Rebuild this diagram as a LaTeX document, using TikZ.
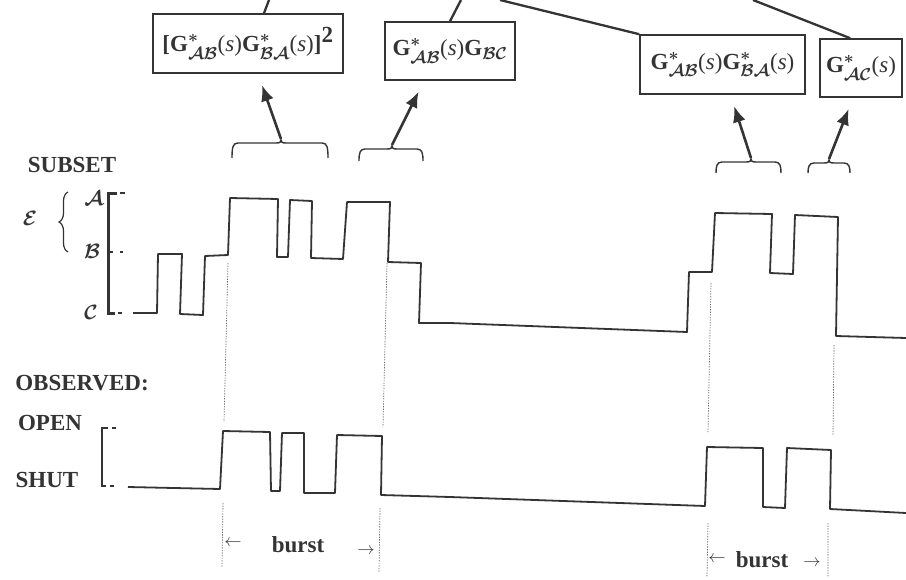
\documentclass[tikz,border=0pt]{standalone}
\usepackage{fontspec}
\setmainfont{Liberation Serif}
\usetikzlibrary{calc,decorations.pathreplacing,arrows.meta}
\definecolor{ink}{RGB}{52,52,52}
\DeclareMathSizes{23}{23}{17.28}{12}
\DeclareMathSizes{20.74}{20.74}{14.4}{10}

% G with a star and a subscript pair of subsets
\newcommand{\Gst}[1]{\textbf{G}$^{*}_{#1}$}
\newcommand{\Gsub}[1]{\textbf{G}$_{#1}$}
\newcommand{\sarg}{(\textit{s})}
% upward curly brace: x-left, x-right, x-cusp, y-top, y-ends
\newcommand{\upbrace}[5]{%
  (#1,#5) .. controls (#1,#4+4) and (#1+1,#4) .. (#1+6,#4)
  -- (#3-5,#4) .. controls (#3-1,#4) and (#3,#4-1) .. (#3,#4-3)
  .. controls (#3,#4-1) and (#3+1,#4) .. (#3+5,#4)
  -- (#2-6,#4) .. controls (#2-1,#4) and (#2,#4+4) .. (#2,#5)}

\tikzset{
  trace/.style={draw=ink,line width=1.8pt,line join=round},
  fbox/.style={draw=ink,line width=1.6pt,inner sep=0pt,text=ink,
    font=\fontsize{23}{26}\selectfont\boldmath},
  lead/.style={draw=ink,line width=2.3pt},
  arr/.style={draw=ink,line width=2.6pt,-{Latex[length=16pt,width=13pt]},shorten >=12pt},
  brc/.style={draw=ink,line width=1.4pt},
  guide/.style={draw=ink!75,line width=0.7pt,dash pattern=on 1.3pt off 1.3pt},
  lbl/.style={font=\fontsize{23}{26}\selectfont\bfseries,text=ink,inner sep=0pt},
  lev/.style={font=\fontsize{20.74}{24}\selectfont\boldmath,text=ink,inner sep=0pt},
  tiny/.style={font=\fontsize{16}{16}\selectfont,text=ink,inner sep=0pt},
}

\begin{document}
\begin{tikzpicture}[x=1pt,y=-1pt]
\useasboundingbox[fill=white] (0,0) rectangle (906,579);

% ---- formula boxes ----
\node[fbox,minimum width=190pt,minimum height=59pt] (g1) at (248,43.5)
  {\textbf{[}\Gst{\mathcal{AB}}\sarg\Gst{\mathcal{BA}}\sarg\textbf{]}$^{\textbf{2}}$};
\node[fbox,minimum width=130pt,minimum height=58pt] (g2) at (450,51)
  {\Gst{\mathcal{AB}}\sarg\Gsub{\mathcal{BC}}};
\node[fbox,minimum width=165pt,minimum height=59pt] (g3) at (722.5,64.5)
  {\Gst{\mathcal{AB}}\sarg\Gst{\mathcal{BA}}\sarg};
\node[fbox,minimum width=82pt,minimum height=58pt] (g4) at (861,68)
  {\Gst{\mathcal{AC}}\sarg};

% ---- leads running off the top ----
\coordinate (t1) at (269,0);
\coordinate (t2) at (461,0);
\coordinate (t3) at (500,0);
\coordinate (t4) at (753,0);
\draw[lead] ($(g1.north)+(16,0)$) -- (t1);
\draw[lead] (g2.north) -- (t2);
\draw[lead] (g3.north west) -- (t3);
\draw[lead] ($(g4.north west)+(31,0)$) -- (t4);

% ---- braces over the sojourns ----
\draw[brc] \upbrace{232}{328}{281}{143}{158};
\draw[brc] \upbrace{359}{423}{392}{149}{161};
\draw[brc] \upbrace{716}{781}{751}{162}{173};
\draw[brc] \upbrace{808}{850}{829}{163}{173};
\coordinate (c1) at (281,139);
\coordinate (c2) at (392,145);
\coordinate (c3) at (751,158);
\coordinate (c4) at (829,159);

% ---- arrows from braces to formulas ----
\draw[arr] (c1) -- ($(g1.south)+(10,0)$);
\draw[arr] (c2) -- ($(g2.south)+(-26,0)$);
\draw[arr] (c3) -- ($(g3.south)+(8,0)$);
\draw[arr] (c4) -- ($(g4.south)+(-8,0)$);

% ---- subset axis ----
\node[lbl] (subset) at (72,165) {SUBSET};
\node[lev] (lE) at (30,218) {$\mathcal{E}$};
\node[lev] (lA) at (94,198) {$\mathcal{A}$};
\node[lev] (lB) at (92,251) {$\mathcal{B}$};
\node[lev] (lC) at (91,312) {$\mathcal{C}$};
\draw[decorate,decoration={brace,amplitude=9pt},draw=ink,line width=1.2pt] (68,252) -- (68,192);
\draw[draw=ink,line width=3pt,line join=miter] (117,193) -- (108,193) -- (108,313) -- (115,313);
\draw[draw=ink,line width=1.5pt] (108,252) -- (113,252);
\draw[draw=ink,line width=1.2pt] (120,193) -- (125,193) (120,252) -- (123,252) (118,313) -- (122,313);

% ---- subset trace ----
\draw[trace] (133,313) -- (157,313) -- (158,254) -- (182,254) -- (180,314) -- (203,315)
  -- (205,256) -- (228,255) -- (230,198) -- (278,199) -- (277,257) -- (288,257)
  -- (290,200) -- (312,201) -- (311,258) -- (343,259) -- (347,202) -- (390,202)
  -- (388,262) -- (421,263) -- (419,323) -- (450,323) -- (687,332) -- (689,272)
  -- (712,272) -- (715,213) -- (772,214) -- (770,273) -- (793,274) -- (795,215)
  -- (838,217) -- (836,336) -- (906,338);

% ---- observed axis ----
\node[lbl] (obs) at (82,383) {OBSERVED:};
\node[lbl] (open) at (50,423) {OPEN};
\node[lbl] (shut) at (47,480) {SHUT};
\draw[draw=ink,line width=2pt,line join=miter] (108,428) -- (102,428) -- (102,486) -- (106,486);
\draw[draw=ink,line width=1.1pt] (112,428) -- (116,428) (110,486) -- (114,486);

% ---- observed trace ----
\draw[trace] (128,487) -- (220,489) -- (223,431) -- (270,432) -- (271,491) -- (280,491)
  -- (282,433) -- (304,433) -- (304,493) -- (335,493) -- (337,435) -- (382,436)
  -- (381,495) -- (450,497) -- (705,506) -- (707,447) -- (763,448) -- (763,507)
  -- (785,508) -- (787,448) -- (831,450) -- (830,509) -- (906,513);

% ---- burst guides ----
\draw[guide] (228,263) -- (224,422) (223,503) -- (222,567);
\draw[guide] (387,263) -- (383,427) (380,508) -- (379,572);
\draw[guide] (711,283) -- (708,432) (708,523) -- (707,577);
\draw[guide] (834,345) -- (833,435) (828,523) -- (828,577);

% ---- burst labels ----
\node[lbl] (b1) at (298,545) {burst};
\node[tiny] (b1l) at (233,543) {$\leftarrow$};
\node[tiny] (b1r) at (366,551) {$\rightarrow$};
\node[lbl] (b2) at (762,560) {burst};
\node[tiny] (b2l) at (717,559) {$\leftarrow$};
\node[tiny] (b2r) at (812,563) {$\rightarrow$};
\end{tikzpicture}
\end{document}
